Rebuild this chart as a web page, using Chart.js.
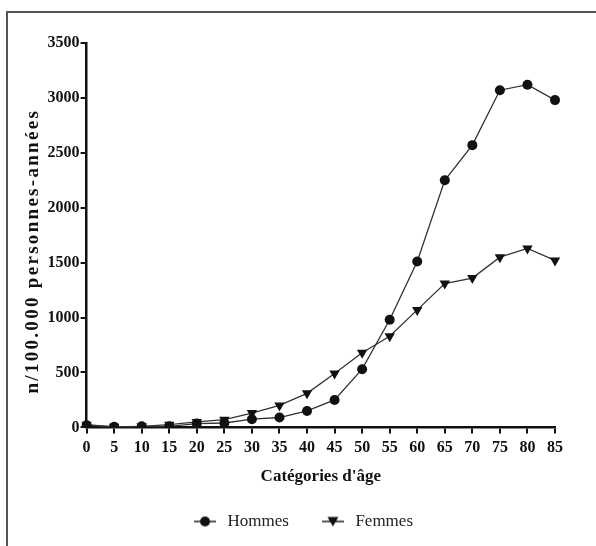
<!DOCTYPE html>
<html>
<head>
<meta charset="utf-8">
<script src="https://cdn.jsdelivr.net/npm/chart.js@4.4.1/dist/chart.umd.min.js"></script>
<style>
  body { margin: 0; background: #fff; }
  #wrap { position: relative; width: 596px; height: 546px; overflow: hidden; }
  #cadre { position: absolute; left: 6px; top: 11px; width: 700px; height: 700px;
           border-left: 2px solid #555; border-top: 2px solid #555; }
  #graf { position: absolute; left: 0; top: 0; }
</style>
</head>
<body>
<div id="wrap">
  <div id="cadre"></div>
  <canvas id="graf" width="596" height="546"></canvas>
</div>
<script>
const ages = ['0','5','10','15','20','25','30','35','40','45','50','55','60','65','70','75','80','85'];
const hommes = [20, 5, 10, 10, 35, 40, 75, 90, 150, 250, 530, 980, 1510, 2250, 2570, 3070, 3120, 2980];
const femmes = [25, 5, 10, 25, 50, 70, 130, 200, 310, 490, 680, 830, 1070, 1310, 1360, 1550, 1630, 1520];
const titreY = "n/100.000 personnes-années";

// petit dessin ligne + marqueur pour la légende
function iconeLegende(forme) {
    const c = document.createElement('canvas');
    c.width = 22; c.height = 14;
    const ctx = c.getContext('2d');
    ctx.strokeStyle = '#222';
    ctx.lineWidth = 1.5;
    ctx.beginPath(); ctx.moveTo(0, 7); ctx.lineTo(22, 7); ctx.stroke();
    ctx.fillStyle = '#111';
    ctx.beginPath();
    if (forme === 'rond') {
        ctx.arc(11, 7, 5, 0, Math.PI * 2);
    } else {
        ctx.moveTo(5.5, 2.5); ctx.lineTo(16.5, 2.5); ctx.lineTo(11, 12);
        ctx.closePath();
    }
    ctx.fill();
    return c;
}
const icones = [iconeLegende('rond'), iconeLegende('tri')];

// titre de l'axe Y avec espacement des lettres
const titreEspace = {
  id: 'titreEspace',
  afterLayout(chart) {
    // décaler un peu la légende vers la droite
    chart.legend.left += 16;
    chart.legend.right += 16;
  },
  afterDraw(chart) {
    const ctx = chart.ctx;
    const a = chart.chartArea;
    ctx.save();
    ctx.translate(33, (a.top + a.bottom) / 2 + 16);
    ctx.rotate(-Math.PI / 2);
    ctx.font = "bold 19px 'Liberation Serif', serif";
    ctx.letterSpacing = "2.3px";
    ctx.fillStyle = "#111";
    ctx.textAlign = "center";
    ctx.textBaseline = "middle";
    ctx.fillText(titreY, 0, 0);
    ctx.restore();
  }
};

new Chart("graf", {
  type: "line",
  data: {
    labels: ages,
    datasets: [{
      label: "Hommes",
      data: hommes,
      borderColor: "#333",
      borderWidth: 1.3,
      pointStyle: "circle",
      pointRadius: 5,
      pointBackgroundColor: "#111",
      pointBorderColor: "#111",
      pointBorderWidth: 0,
      tension: 0
    }, {
      label: "Femmes",
      data: femmes,
      borderColor: "#333",
      borderWidth: 1.3,
      pointStyle: "triangle",
      pointRotation: 180,
      pointRadius: 6,
      pointBackgroundColor: "#111",
      pointBorderColor: "#111",
      pointBorderWidth: 0,
      tension: 0
    }]
  },
  options: {
    responsive: false,
    animation: false,
    layout: { padding: { left: 17, right: 41, top: 43, bottom: 6 } },
    scales: {
      x: {
        type: "category",
        offset: false,
        border: { display: true, color: "#111", width: 2.5 },
        grid: { display: true, drawOnChartArea: false, drawTicks: true, tickLength: 6, color: "#111", lineWidth: 2 },
        ticks: { color: "#111", padding: 5, maxRotation: 0, autoSkip: false,
                 font: { family: "'Liberation Serif', serif", size: 16, weight: "bold" } },
        title: { display: true, text: "Catégories d'âge", color: "#111", padding: { top: 4, bottom: -4 },
                 font: { family: "'Liberation Serif', serif", size: 17, weight: "bold" } }
      },
      y: {
        min: 0,
        max: 3500,
        border: { display: true, color: "#111", width: 2.5 },
        grid: { display: true, drawOnChartArea: false, drawTicks: true, tickLength: 6, color: "#111", lineWidth: 2 },
        ticks: { stepSize: 500, color: "#111", padding: 1,
                 callback: (v) => String(v),
                 font: { family: "'Liberation Serif', serif", size: 16, weight: "bold" } },
        title: { display: true, text: titreY, color: "rgba(0,0,0,0)", padding: { top: 0, bottom: 8 },
                 font: { family: "'Liberation Serif', serif", size: 18, weight: "bold" } }
      }
    },
    plugins: {
      legend: {
        display: true,
        position: "bottom",
        labels: {
          usePointStyle: true,
          pointStyleWidth: 28,
          padding: 30,
          color: "#222",
          font: { family: "'Liberation Serif', serif", size: 17 },
          generateLabels: function(chart) {
            return chart.data.datasets.map((ds, i) => ({
              text: ds.label,
              pointStyle: icones[i],
              fillStyle: "#111",
              strokeStyle: "#111",
              lineWidth: 0,
              hidden: false,
              datasetIndex: i,
              fontColor: "#222"
            }));
          }
        }
      },
      tooltip: { enabled: false }
    }
  },
  plugins: [titreEspace]
});
</script>
</body>
</html>
